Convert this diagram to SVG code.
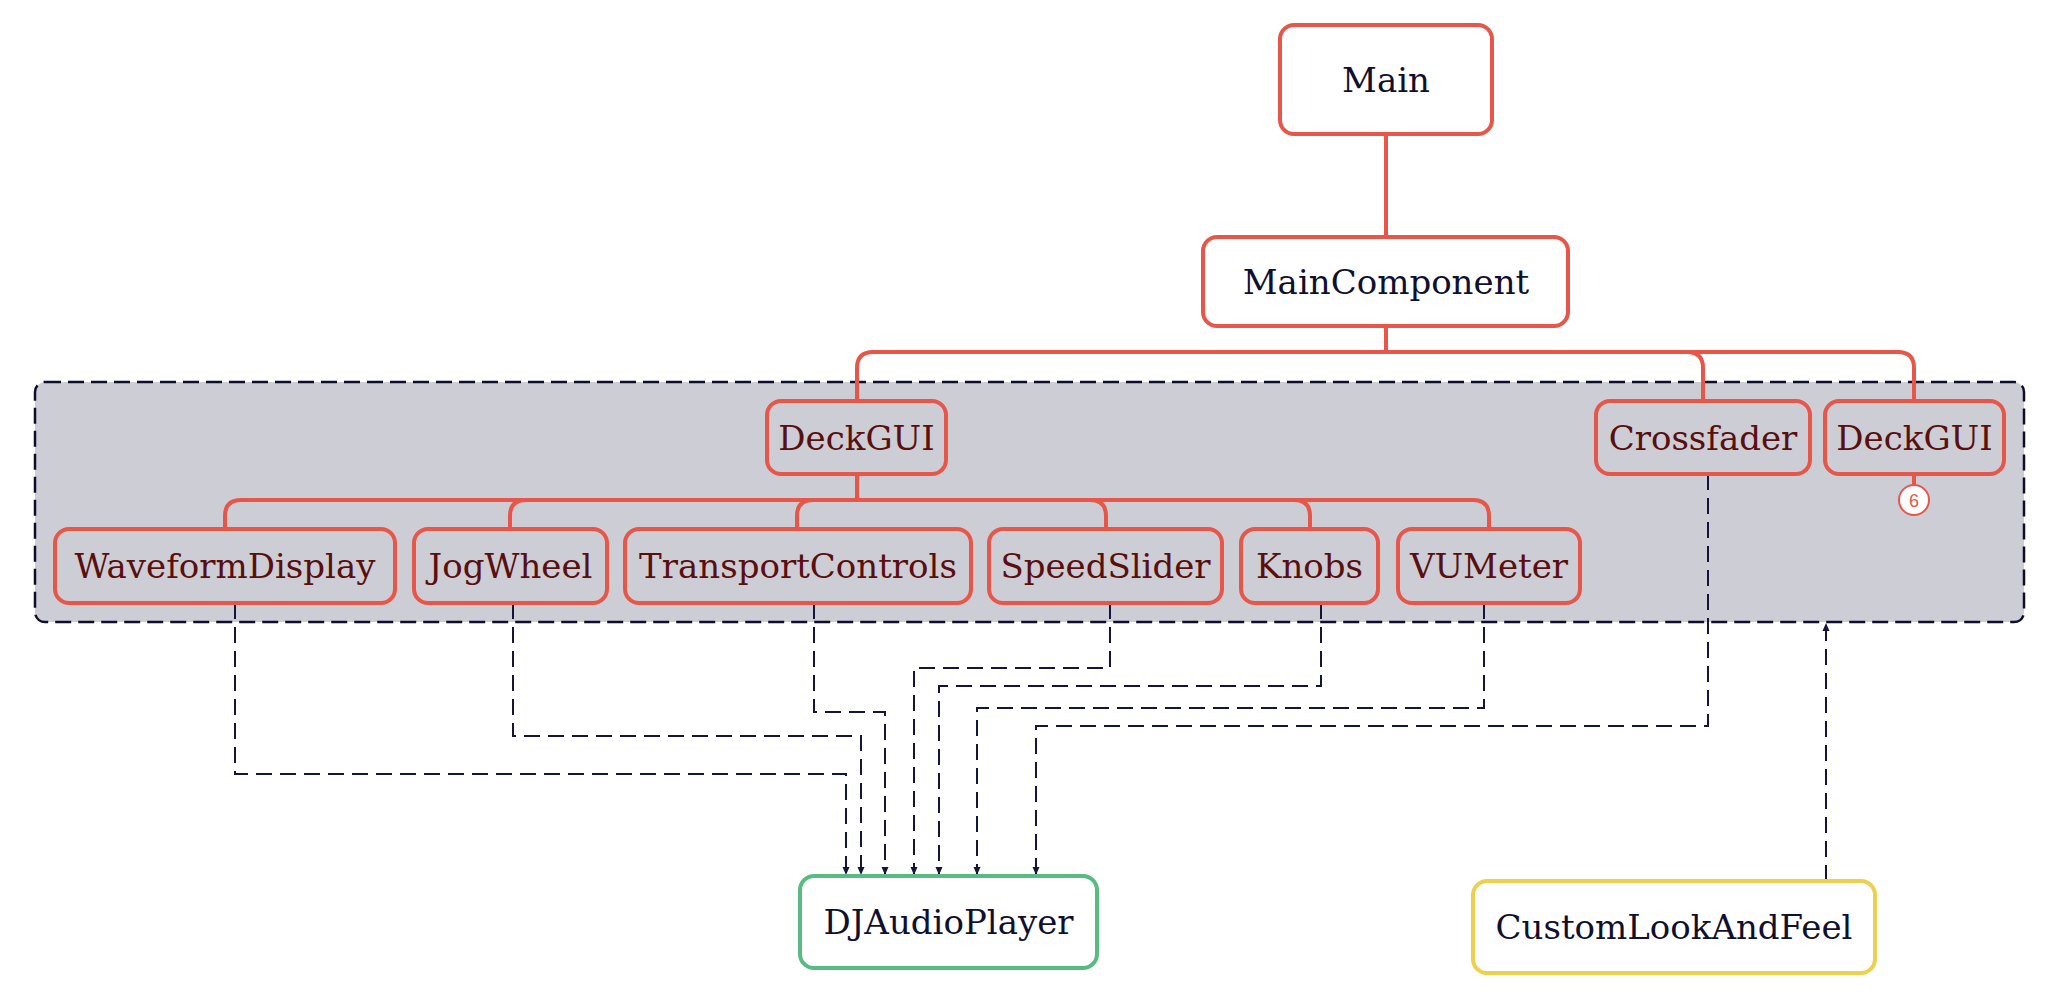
<svg xmlns="http://www.w3.org/2000/svg" width="2068" height="1004" viewBox="0 0 2068 1004">
  <style>
    .box { fill: #ffffff; stroke: #E8564A; stroke-width: 4; }
    .inbox { fill: #CCCDD5; stroke: #E8564A; stroke-width: 4; }
    .lbl { font-family: "DejaVu Serif", "Liberation Serif", serif; font-size: 34px; text-anchor: middle; fill: #10102E; }
    .inlbl { font-family: "DejaVu Serif", "Liberation Serif", serif; font-size: 34px; text-anchor: middle; fill: #5A0E0E; }
    .tree { fill: none; stroke: #E8564A; stroke-width: 4; }
    .dep { fill: none; stroke: #15153A; stroke-width: 2; stroke-dasharray: 16 8; }
    .cluster { fill: #CCCDD5; stroke: #0E0E2C; stroke-width: 2.5; stroke-dasharray: 16 7; }
  </style>
  <defs>
    <marker id="arr" markerWidth="10" markerHeight="10" refX="9" refY="5" orient="auto" markerUnits="userSpaceOnUse">
      <path d="M1,1.5 L9,5 L1,8.5 Z" fill="#15153A"/>
    </marker>
  </defs>

  <g id="cluster">
    <rect class="cluster" x="35" y="382" width="1989" height="240" rx="10"/>
  </g>

  <g id="connectors">
    <path class="tree" d="M1386,134 V237"/>
    <path class="tree" d="M1386,326 V352 H873 Q857,352 857,368 V401"/>
    <path class="tree" d="M1386,326 V352 H1687 Q1703,352 1703,368 V401"/>
    <path class="tree" d="M1386,326 V352 H1898 Q1914,352 1914,368 V401"/>
    <path class="tree" d="M857,474 V500 H241 Q225,500 225,516 V529"/>
    <path class="tree" d="M857,474 V500 H526 Q510,500 510,516 V529"/>
    <path class="tree" d="M857,474 V500 H813 Q797,500 797,516 V529"/>
    <path class="tree" d="M857,474 V500 H1090 Q1106,500 1106,516 V529"/>
    <path class="tree" d="M857,474 V500 H1294 Q1310,500 1310,516 V529"/>
    <path class="tree" d="M857,474 V500 H1473 Q1489,500 1489,516 V529"/>
    <path class="tree" d="M1914,474 V485"/>

    <path class="dep" marker-end="url(#arr)" d="M235,603 V774 H846 V875"/>
    <path class="dep" marker-end="url(#arr)" d="M513,603 V736 H861 V875"/>
    <path class="dep" marker-end="url(#arr)" d="M814,603 V712 H885 V875"/>
    <path class="dep" marker-end="url(#arr)" d="M1110,603 V668 H914 V875"/>
    <path class="dep" marker-end="url(#arr)" d="M1321,603 V686 H939 V875"/>
    <path class="dep" marker-end="url(#arr)" d="M1484,603 V708 H977 V875"/>
    <path class="dep" marker-end="url(#arr)" d="M1708,474 V726 H1036 V875"/>
    <path class="dep" marker-end="url(#arr)" d="M1826,881 V623"/>
  </g>

  <g id="node-main">
    <rect class="box" x="1280" y="25" width="212" height="109" rx="14"/>
    <text class="lbl" x="1386" y="92">Main</text>
  </g>
  <g id="node-maincomponent">
    <rect class="box" x="1203" y="237" width="365" height="89" rx="14"/>
    <text class="lbl" x="1386" y="294">MainComponent</text>
  </g>
  <g id="node-deckgui-1">
    <rect class="inbox" x="767" y="401" width="179" height="73" rx="14"/>
    <text class="inlbl" x="856.5" y="450">DeckGUI</text>
  </g>
  <g id="node-crossfader">
    <rect class="inbox" x="1596" y="401" width="214" height="73" rx="14"/>
    <text class="inlbl" x="1703" y="450">Crossfader</text>
  </g>
  <g id="node-deckgui-2">
    <rect class="inbox" x="1825" y="401" width="179" height="73" rx="14"/>
    <text class="inlbl" x="1914.5" y="450">DeckGUI</text>
  </g>
  <g id="badge-6">
    <circle cx="1914" cy="500" r="15" fill="#ffffff" stroke="#E8564A" stroke-width="2"/>
    <text x="1914" y="506.5" font-family="Liberation Sans, Arial, sans-serif" font-size="18" text-anchor="middle" fill="#E8564A">6</text>
  </g>
  <g id="node-waveformdisplay">
    <rect class="inbox" x="55" y="529" width="340" height="74" rx="14"/>
    <text class="inlbl" x="225" y="578">WaveformDisplay</text>
  </g>
  <g id="node-jogwheel">
    <rect class="inbox" x="414" y="529" width="193" height="74" rx="14"/>
    <text class="inlbl" x="510.5" y="578">JogWheel</text>
  </g>
  <g id="node-transportcontrols">
    <rect class="inbox" x="625" y="529" width="346" height="74" rx="14"/>
    <text class="inlbl" x="798" y="578">TransportControls</text>
  </g>
  <g id="node-speedslider">
    <rect class="inbox" x="989" y="529" width="233" height="74" rx="14"/>
    <text class="inlbl" x="1105.5" y="578">SpeedSlider</text>
  </g>
  <g id="node-knobs">
    <rect class="inbox" x="1241" y="529" width="137" height="74" rx="14"/>
    <text class="inlbl" x="1309.5" y="578">Knobs</text>
  </g>
  <g id="node-vumeter">
    <rect class="inbox" x="1398" y="529" width="182" height="74" rx="14"/>
    <text class="inlbl" x="1489" y="578">VUMeter</text>
  </g>
  <g id="node-djaudioplayer">
    <rect x="800" y="876" width="297" height="92" rx="14" fill="#ffffff" stroke="#57BB82" stroke-width="4"/>
    <text class="lbl" x="948.5" y="934">DJAudioPlayer</text>
  </g>
  <g id="node-customlookandfeel">
    <rect x="1473" y="881" width="402" height="92" rx="14" fill="#ffffff" stroke="#EDD04D" stroke-width="4"/>
    <text class="lbl" x="1674" y="939">CustomLookAndFeel</text>
  </g>
</svg>
